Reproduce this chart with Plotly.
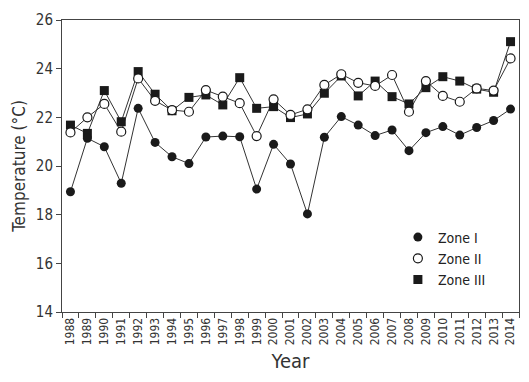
import plotly.graph_objects as go

years = [str(y) for y in range(1988, 2015)]
zone1 = [18.94, 21.14, 20.79, 19.29, 22.37, 20.97, 20.38, 20.10, 21.19, 21.23,
         21.20, 19.05, 20.89, 20.08, 18.03, 21.18, 22.03, 21.68, 21.25, 21.48,
         20.63, 21.37, 21.62, 21.27, 21.58, 21.87, 22.34]
zone2 = [21.38, 22.00, 22.55, 21.41, 23.60, 22.68, 22.30, 22.23, 23.12, 22.85,
         22.58, 21.23, 22.74, 22.10, 22.33, 23.33, 23.77, 23.42, 23.29, 23.74,
         22.23, 23.49, 22.88, 22.64, 23.19, 23.10, 24.42]
zone3 = [21.68, 21.34, 23.10, 21.82, 23.88, 22.95, 22.27, 22.82, 22.92, 22.51,
         23.63, 22.37, 22.44, 21.99, 22.14, 22.99, 23.70, 22.88, 23.49, 22.85,
         22.55, 23.22, 23.67, 23.49, 23.16, 23.03, 25.11]

names = ["Zone I", "Zone II", "Zone III"]
series = [zone1, zone2, zone3]
symbols = ["circle", "circle-open", "square"]
FONT = "DejaVu Sans Condensed, Liberation Sans Narrow, DejaVu Sans, sans-serif"

fig = go.Figure()
# lines first (no legend)
for vals in [zone3, zone2, zone1]:
    fig.add_trace(go.Scatter(x=years, y=vals, mode="lines",
                             line=dict(color="#333333", width=1),
                             showlegend=False, hoverinfo="skip"))
# markers
for rank, (nm, vals, sym) in reversed(list(enumerate(zip(names, series, symbols)))):
    if sym == "circle-open":
        marker = dict(symbol="circle", size=9, color="white",
                      line=dict(color="#1a1a1a", width=1.2))
    elif sym == "square":
        marker = dict(symbol="square", size=9, color="#1a1a1a",
                      line=dict(color="#1a1a1a", width=0))
    else:
        marker = dict(symbol="circle", size=9, color="#1a1a1a",
                      line=dict(color="#1a1a1a", width=0))
    fig.add_trace(go.Scatter(x=years, y=vals, mode="markers", name=nm,
                             marker=marker, legendrank=rank + 1))

fig.update_layout(
    width=521, height=374,
    margin=dict(l=54, r=10, t=12, b=70, autoexpand=False),
    paper_bgcolor="white", plot_bgcolor="white",
    font=dict(family=FONT, color="#333333", size=13),
    legend=dict(x=0.735, y=0.31, xanchor="left", yanchor="top",
                bgcolor="rgba(0,0,0,0)",
                font=dict(size=14, color="#222", family=FONT),
                tracegroupgap=4, itemwidth=30),
)
fig.update_xaxes(type="category", categoryorder="array", categoryarray=years,
                 range=[-0.5, 26.5], tickson="boundaries", ticks="outside",
                 ticklen=5, tickcolor="#444", tickangle=-90, automargin=False,
                 tickfont=dict(size=12, color="#333", family=FONT),
                 showline=True, linecolor="#444", linewidth=1, mirror=True,
                 showgrid=False, zeroline=False,
                 title=dict(text="Year", font=dict(size=20, color="#333", family=FONT),
                            standoff=9))
fig.update_yaxes(range=[14, 26], dtick=2, tick0=14, ticks="outside", ticklen=5,
                 tickcolor="#444", automargin=False,
                 tickfont=dict(size=15, color="#333", family=FONT),
                 showline=True, linecolor="#444", linewidth=1, mirror=True,
                 showgrid=False, zeroline=False,
                 title=dict(text="Temperature (°C)", font=dict(size=17, color="#333",
                                                               family=FONT),
                            standoff=5))

fig.write_html("out.html")
